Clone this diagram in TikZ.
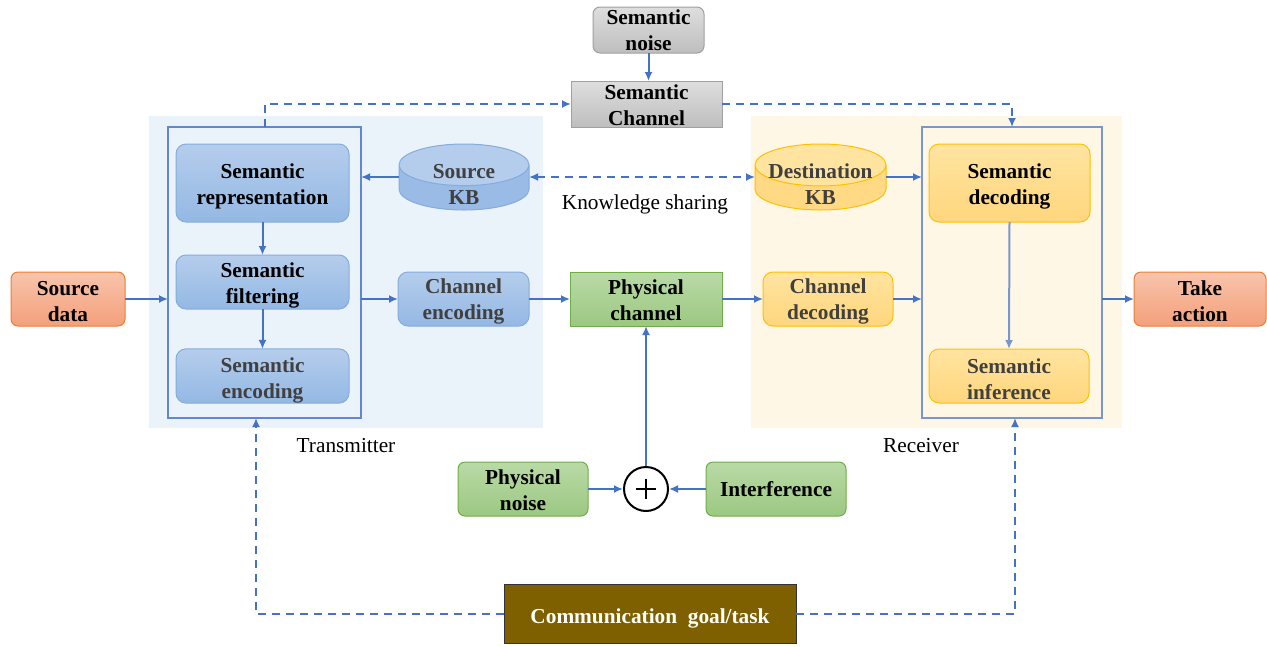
\documentclass[tikz,border=0pt]{standalone}
\usepackage{fontspec}
\setmainfont{Liberation Serif}
\usetikzlibrary{shapes.geometric,arrows.meta}
\definecolor{arr}{RGB}{68,114,196}
\definecolor{boxline}{RGB}{98,136,204}
\definecolor{boxlineR}{RGB}{122,150,204}
\definecolor{txbg}{RGB}{235,243,250}
\definecolor{rxbg}{RGB}{255,247,230}
\definecolor{blueA}{RGB}{181,205,236}
\definecolor{blueB}{RGB}{148,184,228}
\definecolor{blueD}{RGB}{132,172,222}
\definecolor{yelA}{RGB}{255,228,160}
\definecolor{yelB}{RGB}{255,214,125}
\definecolor{yelD}{RGB}{255,192,0}
\definecolor{grnA}{RGB}{185,218,166}
\definecolor{grnB}{RGB}{156,200,130}
\definecolor{grnD}{RGB}{112,173,71}
\definecolor{orA}{RGB}{248,196,172}
\definecolor{orB}{RGB}{244,160,122}
\definecolor{orD}{RGB}{237,125,49}
\definecolor{gryA}{RGB}{222,222,222}
\definecolor{gryB}{RGB}{190,190,190}
\definecolor{gryD}{RGB}{160,160,160}
\definecolor{goalc}{RGB}{127,96,0}
\definecolor{dtxt}{RGB}{64,64,64}
\newcommand\mystrut[1]{\rule{0pt}{#1pt}}
\tikzset{
  base/.style={align=center, inner sep=0pt, outer sep=0pt, font=\fontsize{21.3}{26}\selectfont\bfseries},
  bluebox/.style={base, rounded corners=10pt, top color=blueA, bottom color=blueB, draw=blueD, line width=1pt},
  yelbox/.style={base, rounded corners=10pt, top color=yelA, bottom color=yelB, draw=yelD, line width=1pt},
  grnbox/.style={base, rounded corners=7pt, top color=grnA, bottom color=grnB, draw=grnD, line width=1pt},
  orbox/.style={base, rounded corners=7pt, top color=orA, bottom color=orB, draw=orD, line width=1pt},
  grybox/.style={base, top color=gryA, bottom color=gryB, draw=gryD, line width=1pt},
  outline/.style={line width=2pt, inner sep=0pt, outer sep=0pt},
  kb/.style={inner sep=0pt, outer sep=0pt, cylinder, shape border rotate=90, aspect=0.32, line width=1pt, cylinder uses custom fill, anchor=shape center},
  kbtext/.style={base, text=dtxt, yshift=3.5pt},
  conn/.style={draw=arr, line width=2pt, -{Latex[length=9pt,width=8pt]}},
  dconn/.style={conn, dash pattern=on 8pt off 6pt},
  lbl/.style={font=\fontsize{21.3}{26}\selectfont, inner sep=0pt}
}
\begin{document}
\begin{tikzpicture}[x=1pt,y=-1pt]
\useasboundingbox (0,0) rectangle (1267,646);
\fill[txbg] (149,116) rectangle (543,428);
\fill[rxbg] (751,116) rectangle (1122,428);

\node[outline, draw=boxline, minimum width=193pt, minimum height=291pt] (tx) at (264.5,272.5) {};
\node[outline, draw=boxlineR, minimum width=180pt, minimum height=291pt] (rx) at (1012,272.5) {};

\node[orbox, minimum width=114pt, minimum height=54pt] (src) at (68,299) {\mystrut{18.5}Source\\data};
\node[orbox, minimum width=132pt, minimum height=54pt] (act) at (1200,299) {\mystrut{18.5}Take\\action};

\node[bluebox, minimum width=173pt, minimum height=78pt] (rep) at (262.5,183) {\mystrut{22}Semantic\\representation};
\node[bluebox, minimum width=173pt, minimum height=54pt] (filt) at (262.5,282) {\mystrut{21.5}Semantic\\filtering};
\node[bluebox, minimum width=173pt, minimum height=54pt, text=dtxt] (enc) at (262.5,376) {\mystrut{23.5}Semantic\\encoding};
\node[kb, minimum height=66pt, draw=blueD, cylinder body fill=blueB!85!blueA, cylinder end fill=blueA,
  label={[kbtext]center:{Source\\KB}}] (skb) at (464,177) {\rule{130pt}{0pt}};
\node[bluebox, minimum width=131pt, minimum height=54pt, text=dtxt] (cenc) at (463.5,299) {\mystrut{20.5}Channel\\encoding};

\node[grnbox, minimum width=152pt, minimum height=54pt, rounded corners=0pt] (phys) at (646,299) {\mystrut{17.5}Physical\\channel};
\node[grybox, minimum width=111pt, minimum height=46pt, rounded corners=7pt] (snoise) at (648.5,30) {Semantic\\noise};
\node[grybox, minimum width=151pt, minimum height=46pt] (schan) at (646.5,104) {\mystrut{16.5}Semantic\\Channel};

\node[kb, minimum height=66pt, draw=yelD, cylinder body fill=yelB!80!yelA, cylinder end fill=yelA,
  label={[kbtext]center:{Destination\\KB}}] (dkb) at (820.5,177) {\rule{131pt}{0pt}};
\node[yelbox, minimum width=161pt, minimum height=78pt] (dec) at (1009.5,183) {\mystrut{21.5}Semantic\\decoding};
\node[yelbox, minimum width=130pt, minimum height=54pt, text=dtxt] (cdec) at (828,299) {\mystrut{20.5}Channel\\decoding};
\node[yelbox, minimum width=160pt, minimum height=54pt, text=dtxt] (inf) at (1009,376) {\mystrut{20.5}Semantic\\inference};

\node[grnbox, minimum width=130pt, minimum height=54pt] (pn) at (523,489) {\mystrut{16.5}Physical\\noise};
\node[grnbox, minimum width=140pt, minimum height=54pt] (intf) at (776,489) {\mystrut{15.5}Interference};
\node[circle, draw=black, line width=2pt, fill=white, minimum size=44pt, inner sep=0pt,
  path picture={\draw[line width=2.4pt] (path picture bounding box.center) ++(-10,0) -- ++(20,0);
                \draw[line width=2.4pt] (path picture bounding box.center) ++(0,-10) -- ++(0,20);}] (plus) at (646,489) {};

\node[base, draw=black!80, line width=1pt, fill=goalc, text=white, minimum width=292pt, minimum height=59pt] (goal) at (650,613.5) {\mystrut{24.5}Communication~ goal/task};

\node[lbl] (txl) at (346,446) {Transmitter};
\node[lbl] (rxl) at (921,446) {Receiver};
\node[lbl] (ksl) at (645,203) {\mystrut{18.5}Knowledge sharing};

% solid connectors
\draw[conn] (src.east) -- (src.east -| tx.west);
\draw[conn] (rep.south) -- (filt.north);
\draw[conn] (filt.south) -- (enc.north);
\draw[conn] (skb.west |- skb.shape center) -- (tx.east |- skb.shape center);
\draw[conn] (cenc.west -| tx.east) -- (cenc.west);
\draw[conn] (cenc.east) -- (phys.west);
\draw[conn] (phys.east) -- (cdec.west);
\draw[conn] (cdec.east) -- (cdec.east -| rx.west);
\draw[conn] (dkb.east |- dkb.shape center) -- (rx.west |- dkb.shape center);
\draw[conn, draw=boxlineR] (dec.south) -- (inf.north);
\draw[conn] (act.west -| rx.east) -- (act.west);
\draw[conn] (snoise.south) -- (schan.north -| snoise.south);
\draw[conn] (plus.north) -- (phys.south);
\draw[conn] (pn.east) -- (plus.west);
\draw[conn] (intf.west) -- (plus.east);

% dashed connectors
\draw[dconn] (tx.north) |- (schan.west);
\draw[dconn] (schan.east) -| (rx.north);
\draw[dconn, {Latex[length=9pt,width=8pt]}-{Latex[length=9pt,width=8pt]}] (skb.east |- skb.shape center) -- (dkb.west |- dkb.shape center);
\draw[dconn] (goal.west) -| ([xshift=-8.5pt]tx.south);
\draw[dconn] (goal.east) -| ([xshift=3pt]rx.south);
\end{tikzpicture}
\end{document}
